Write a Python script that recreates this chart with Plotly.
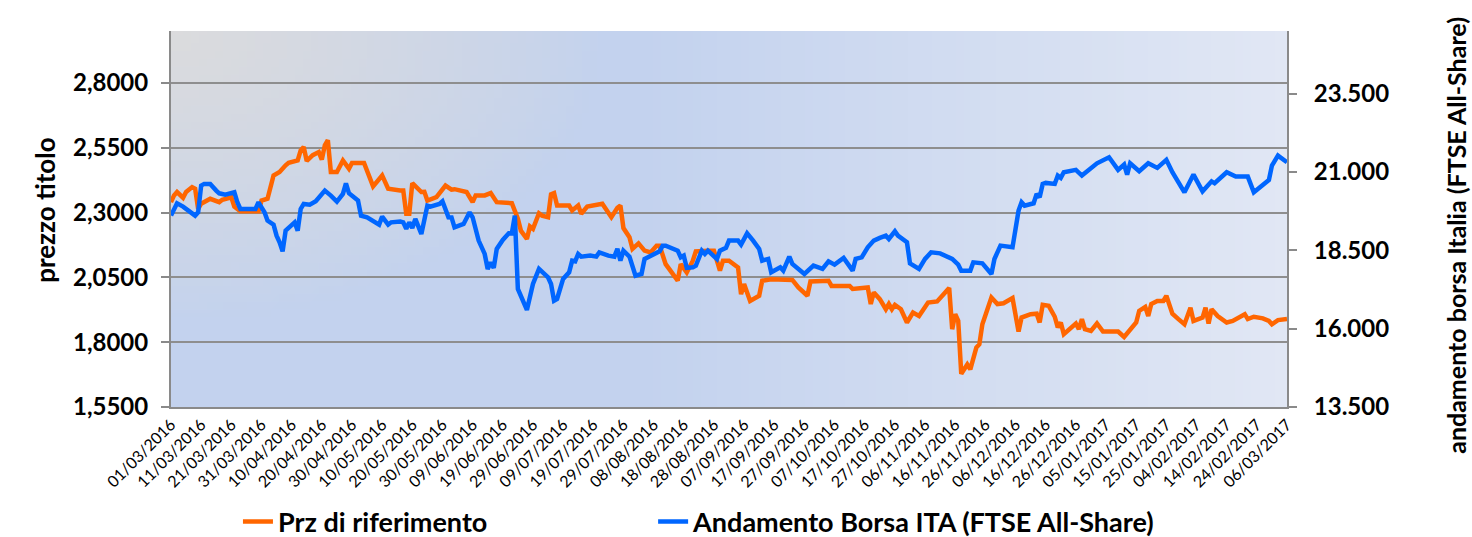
import base64, struct, zlib, math
import pandas as pd
import plotly.graph_objects as go

# ---------------- data ----------------
prz_dates = [
    "2016-03-01","2016-03-02","2016-03-03","2016-03-05","2016-03-06","2016-03-08","2016-03-09","2016-03-10",
    "2016-03-11","2016-03-13","2016-03-14","2016-03-17","2016-03-18","2016-03-21","2016-03-22","2016-03-24",
    "2016-03-30","2016-03-31","2016-04-02","2016-04-04","2016-04-06","2016-04-08","2016-04-09","2016-04-12",
    "2016-04-13","2016-04-14","2016-04-15","2016-04-17","2016-04-19","2016-04-20","2016-04-21","2016-04-22",
    "2016-04-23","2016-04-25","2016-04-27","2016-04-29","2016-04-30","2016-05-04","2016-05-07","2016-05-10",
    "2016-05-12","2016-05-16","2016-05-17","2016-05-18","2016-05-19","2016-05-20","2016-05-23","2016-05-24",
    "2016-05-25","2016-05-28","2016-05-31","2016-06-02","2016-06-03","2016-06-07","2016-06-09","2016-06-10",
    "2016-06-13","2016-06-15","2016-06-17","2016-06-22","2016-06-24","2016-06-25","2016-06-27","2016-06-28",
    "2016-06-29","2016-07-01","2016-07-02","2016-07-04","2016-07-05","2016-07-06","2016-07-07","2016-07-11",
    "2016-07-12","2016-07-14","2016-07-15","2016-07-17","2016-07-20","2016-07-22","2016-07-25","2016-07-27",
    "2016-07-28","2016-07-29","2016-07-31","2016-08-01","2016-08-03","2016-08-05","2016-08-07","2016-08-09",
    "2016-08-10","2016-08-12","2016-08-14","2016-08-16","2016-08-17","2016-08-19","2016-08-21","2016-08-22",
    "2016-08-26","2016-08-28","2016-08-30","2016-08-31","2016-09-02","2016-09-05","2016-09-06","2016-09-07",
    "2016-09-09","2016-09-12","2016-09-13","2016-09-16","2016-09-23","2016-09-25","2016-09-28","2016-09-29",
    "2016-10-05","2016-10-06","2016-10-12","2016-10-13","2016-10-18","2016-10-19","2016-10-20","2016-10-22",
    "2016-10-24","2016-10-25","2016-10-26","2016-10-27","2016-10-29","2016-10-31","2016-11-02","2016-11-04",
    "2016-11-07","2016-11-10","2016-11-12","2016-11-14","2016-11-15","2016-11-16","2016-11-17","2016-11-18",
    "2016-11-20","2016-11-21","2016-11-23","2016-11-24","2016-11-25","2016-11-28","2016-11-30","2016-12-02",
    "2016-12-05","2016-12-07","2016-12-08","2016-12-11","2016-12-13","2016-12-14","2016-12-15","2016-12-17",
    "2016-12-19","2016-12-20","2016-12-21","2016-12-22","2016-12-26","2016-12-27","2016-12-28","2016-12-29",
    "2016-12-31","2017-01-02","2017-01-04","2017-01-09","2017-01-11","2017-01-15","2017-01-16","2017-01-18",
    "2017-01-19","2017-01-20","2017-01-22","2017-01-24","2017-01-25","2017-01-27","2017-01-29","2017-01-31",
    "2017-02-02","2017-02-03","2017-02-06","2017-02-07","2017-02-08","2017-02-09","2017-02-11","2017-02-14",
    "2017-02-16","2017-02-18","2017-02-20","2017-02-21","2017-02-23","2017-02-26","2017-02-28","2017-03-01",
    "2017-03-03","2017-03-06",
]
prz_values = [
    2.340,2.366,2.379,2.357,2.379,2.398,2.392,2.314,
    2.334,2.346,2.353,2.340,2.349,2.359,2.323,2.305,
    2.305,2.346,2.353,2.443,2.456,2.482,2.492,2.501,
    2.540,2.553,2.499,2.521,2.533,2.504,2.559,2.579,
    2.456,2.456,2.501,2.469,2.491,2.491,2.401,2.443,
    2.392,2.385,2.385,2.295,2.295,2.413,2.379,2.380,
    2.346,2.359,2.404,2.388,2.390,2.379,2.340,2.366,
    2.366,2.375,2.340,2.336,2.276,2.230,2.198,2.246,
    2.237,2.297,2.288,2.282,2.370,2.375,2.327,2.327,
    2.308,2.327,2.295,2.323,2.331,2.334,2.282,2.318,
    2.327,2.240,2.205,2.160,2.181,2.153,2.146,2.172,
    2.172,2.101,2.069,2.037,2.101,2.069,2.114,2.150,
    2.153,2.153,2.076,2.114,2.114,2.088,1.985,2.024,
    1.959,1.979,2.037,2.043,2.040,2.011,1.979,2.034,
    2.037,2.017,2.017,2.005,2.011,1.947,1.992,1.966,
    1.927,1.947,1.927,1.944,1.927,1.876,1.914,1.901,
    1.953,1.957,1.983,2.009,1.850,1.908,1.882,1.678,
    1.714,1.695,1.779,1.792,1.869,1.972,1.947,1.950,
    1.970,1.841,1.895,1.908,1.910,1.876,1.944,1.940,
    1.898,1.857,1.876,1.831,1.872,1.850,1.889,1.850,
    1.843,1.872,1.841,1.841,1.820,1.876,1.921,1.936,
    1.901,1.947,1.959,1.959,1.979,1.910,1.889,1.869,
    1.933,1.882,1.895,1.933,1.872,1.927,1.901,1.876,
    1.882,1.895,1.908,1.889,1.898,1.892,1.882,1.869,
    1.885,1.889,
]

ftse_dates = [
    "2016-03-01","2016-03-02","2016-03-03","2016-03-05","2016-03-07","2016-03-09","2016-03-10","2016-03-11",
    "2016-03-12","2016-03-14","2016-03-16","2016-03-17","2016-03-19","2016-03-22","2016-03-23","2016-03-24",
    "2016-03-29","2016-03-30","2016-04-01","2016-04-02","2016-04-04","2016-04-05","2016-04-06","2016-04-07",
    "2016-04-08","2016-04-10","2016-04-11","2016-04-12","2016-04-13","2016-04-14","2016-04-16","2016-04-18",
    "2016-04-20","2016-04-21","2016-04-23","2016-04-25","2016-04-27","2016-04-28","2016-04-29","2016-05-02",
    "2016-05-03","2016-05-05","2016-05-09","2016-05-10","2016-05-12","2016-05-13","2016-05-16","2016-05-17",
    "2016-05-18","2016-05-19","2016-05-20","2016-05-21","2016-05-23","2016-05-25","2016-05-26","2016-05-29",
    "2016-05-30","2016-06-01","2016-06-02","2016-06-03","2016-06-06","2016-06-08","2016-06-09","2016-06-11",
    "2016-06-13","2016-06-14","2016-06-15","2016-06-16","2016-06-17","2016-06-19","2016-06-21","2016-06-22",
    "2016-06-23","2016-06-24","2016-06-27","2016-06-29","2016-07-01","2016-07-04","2016-07-05","2016-07-06",
    "2016-07-07","2016-07-09","2016-07-11","2016-07-12","2016-07-13","2016-07-14","2016-07-15","2016-07-18",
    "2016-07-20","2016-07-21","2016-07-24","2016-07-26","2016-07-27","2016-07-28","2016-07-29","2016-07-31",
    "2016-08-02","2016-08-04","2016-08-05","2016-08-07","2016-08-10","2016-08-11","2016-08-12","2016-08-16",
    "2016-08-17","2016-08-18","2016-08-19","2016-08-21","2016-08-22","2016-08-24","2016-08-25","2016-08-26",
    "2016-08-29","2016-08-30","2016-09-01","2016-09-02","2016-09-05","2016-09-06","2016-09-08","2016-09-10",
    "2016-09-12","2016-09-13","2016-09-15","2016-09-16","2016-09-19","2016-09-20","2016-09-22","2016-09-23",
    "2016-09-25","2016-09-27","2016-09-30","2016-10-03","2016-10-05","2016-10-07","2016-10-10","2016-10-12",
    "2016-10-13","2016-10-14","2016-10-15","2016-10-16","2016-10-18","2016-10-20","2016-10-22","2016-10-24",
    "2016-10-25","2016-10-27","2016-10-28","2016-10-31","2016-11-01","2016-11-04","2016-11-06","2016-11-08",
    "2016-11-11","2016-11-14","2016-11-15","2016-11-17","2016-11-18","2016-11-21","2016-11-22","2016-11-25",
    "2016-11-28","2016-11-29","2016-12-01","2016-12-05","2016-12-06","2016-12-07","2016-12-08","2016-12-09",
    "2016-12-12","2016-12-13","2016-12-14","2016-12-15","2016-12-16","2016-12-19","2016-12-20","2016-12-21",
    "2016-12-22","2016-12-26","2016-12-28","2016-12-31","2017-01-02","2017-01-06","2017-01-09","2017-01-11",
    "2017-01-12","2017-01-13","2017-01-16","2017-01-19","2017-01-22","2017-01-25","2017-01-27","2017-01-31",
    "2017-02-03","2017-02-06","2017-02-09","2017-02-10","2017-02-14","2017-02-17","2017-02-21","2017-02-23",
    "2017-02-28","2017-03-01","2017-03-03","2017-03-06",
]
ftse_values = [
    19608,19854,20001,19895,19768,19608,19713,20566,
    20620,20620,20406,20320,20279,20352,20033,19822,
    19822,20033,19713,19448,19321,18969,18756,18468,
    19129,19289,19394,19129,19822,19982,19959,20065,
    20279,20406,20247,20055,20301,20640,20320,20087,
    19608,19554,19321,19576,19321,19394,19417,19394,
    19183,19394,19215,19503,19024,19927,19895,19982,
    20065,19554,19550,19235,19343,19713,19554,18810,
    18385,17906,18117,17938,18545,18832,19043,19040,
    19608,17268,16597,17427,17906,17638,17427,16894,
    16948,17587,17798,18171,18150,18385,18299,18331,
    18300,18436,18331,18299,18545,18171,18490,18300,
    17692,17745,18225,18331,18468,18650,18650,18490,
    18277,18331,17938,17957,18012,18490,18385,18490,
    18225,18490,18577,18810,18810,18682,19043,18810,
    18545,18171,18225,17798,17957,17852,18299,18066,
    17906,17745,18012,17906,18149,18044,18257,17980,
    17852,18225,18257,18277,18596,18810,18896,18969,
    18864,19107,18969,18756,18085,17906,18225,18436,
    18404,18277,18225,18044,17852,17852,18117,18085,
    17745,18225,18650,18596,19235,19768,20033,19927,
    20001,20301,20193,20620,20652,20620,20885,20812,
    20991,21068,20885,21099,21278,21470,21068,21237,
    20917,21278,21023,21278,21131,21387,20991,20352,
    20917,20384,20703,20640,20991,20853,20853,20352,
    20748,21205,21524,21310,
]

series_names = ["Prz di riferimento", "Andamento Borsa ITA (FTSE All-Share)"]
axis_titles = ["prezzo titolo", "andamento borsa Italia (FTSE All-Share)"]
x_start, x_end = "2016-03-01", "2017-03-06"
x_tickvals = pd.date_range(x_start, x_end, freq="10D")
x_ticktext = [d.strftime("%d/%m/%Y") for d in x_tickvals]
left_ticks = [1.55, 1.80, 2.05, 2.30, 2.55, 2.80]
right_ticks = [13500, 16000, 18500, 21000, 23500]

# ---------------- background gradient image ----------------
def bg_color(u, v):
    blue = (195, 210, 238)
    light = (225, 231, 244)
    gray = (219, 219, 221)
    t = max(0.0, (u - 0.42) / 0.58)
    base = [blue[i] * (1 - t) + light[i] * t for i in range(3)]
    d = math.sqrt((u * 1116 / 430) ** 2 + (v * 376 / 290) ** 2)
    w = max(0.0, 1 - d) ** 0.8
    return tuple(int(round(base[i] * (1 - w) + gray[i] * w)) for i in range(3))

def make_png(w, h):
    rows = []
    for y in range(h):
        row = bytearray([0])
        for x in range(w):
            row.extend(bg_color(x / (w - 1), y / (h - 1)))
        rows.append(bytes(row))
    raw = b"".join(rows)
    def chunk(tag, data):
        return struct.pack(">I", len(data)) + tag + data + struct.pack(">I", zlib.crc32(tag + data) & 0xffffffff)
    return (b"\x89PNG\r\n\x1a\n" + chunk(b"IHDR", struct.pack(">IIBBBBB", w, h, 8, 2, 0, 0, 0))
            + chunk(b"IDAT", zlib.compress(raw, 9)) + chunk(b"IEND", b""))

bg_src = "data:image/png;base64," + base64.b64encode(make_png(140, 48)).decode()

# ---------------- figure ----------------
FONT = "Lato"
legend_font = dict(family=FONT, size=27, weight="bold", color="black")
fig = go.Figure()
fig.add_trace(go.Scatter(x=prz_dates, y=prz_values, name=series_names[0], mode="lines",
                         line=dict(color="#FF6600", width=4.5), yaxis="y", legend="legend"))
fig.add_trace(go.Scatter(x=ftse_dates, y=ftse_values, name=series_names[1], mode="lines",
                         line=dict(color="#0066FF", width=4.5), yaxis="y2", legend="legend2"))

fig.update_layout(
    width=1472, height=537,
    margin=dict(l=171, r=185, t=31, b=130, autoexpand=False),
    paper_bgcolor="white",
    plot_bgcolor="rgba(0,0,0,0)",
    separators=",.",
    font=dict(family=FONT, color="black"),
    showlegend=True,
    legend=dict(orientation="h", x=0.060, xanchor="left", y=-0.306, yanchor="middle",
                font=legend_font, bgcolor="rgba(0,0,0,0)"),
    legend2=dict(orientation="h", x=0.432, xanchor="left", y=-0.306, yanchor="middle",
                 font=legend_font, bgcolor="rgba(0,0,0,0)"),
    images=[dict(source=bg_src, xref="paper", yref="paper", x=0, y=1, sizex=1, sizey=1,
                 sizing="stretch", xanchor="left", yanchor="top", layer="below")],
    xaxis=dict(type="date", range=[x_start, x_end], tickmode="array",
               tickvals=x_tickvals, ticktext=x_ticktext, tickangle=-45,
               tickfont=dict(family=FONT, size=16, color="black"),
               showgrid=False, showline=True, linecolor="#8a8a8a", linewidth=2,
               ticks="", zeroline=False, mirror=False),
    yaxis=dict(range=[1.55, 3.0], tickmode="array", tickvals=left_ticks, tickformat=".4f",
               tickfont=dict(family=FONT, size=24, weight="bold", color="black"),
               showgrid=True, gridcolor="#8e8e8e", gridwidth=2,
               showline=True, linecolor="#8a8a8a", linewidth=2,
               ticks="outside", ticklen=8, tickwidth=2, tickcolor="#8a8a8a",
               ticklabelstandoff=8, zeroline=False),
    yaxis2=dict(range=[13500, 25500], overlaying="y", side="right", tickmode="array",
                tickvals=right_ticks, tickformat=",.0f",
                tickfont=dict(family=FONT, size=24, weight="bold", color="black"),
                showgrid=False, showline=True, linecolor="#8a8a8a", linewidth=2,
                ticks="outside", ticklen=8, tickwidth=2, tickcolor="#8a8a8a",
                ticklabelstandoff=12, zeroline=False),
    annotations=[
        dict(text=axis_titles[0], xref="paper", yref="paper", x=-0.113, y=0.524,
             textangle=-90, showarrow=False, xanchor="center", yanchor="middle",
             font=dict(family=FONT, size=26, weight="bold", color="black")),
        dict(text=axis_titles[1], xref="paper", yref="paper", x=1.152, y=0.457,
             textangle=-90, showarrow=False, xanchor="center", yanchor="middle",
             font=dict(family=FONT, size=25, weight="bold", color="black")),
    ],
)

fig.write_html("out.html", config={"displayModeBar": False},
               post_script="document.body.style.margin='0';document.body.style.overflow='hidden';")
